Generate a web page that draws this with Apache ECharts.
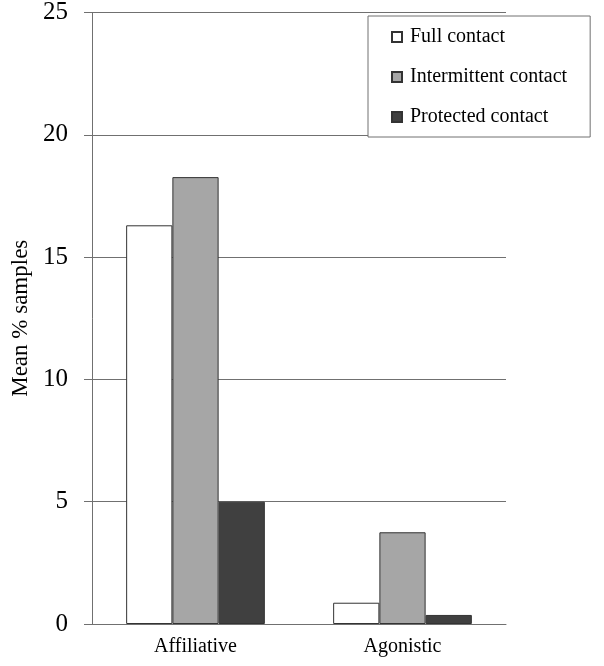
<!DOCTYPE html>
<html>
<head>
<meta charset="utf-8">
<script src="https://cdn.jsdelivr.net/npm/echarts@6/dist/echarts.min.js"></script>
<style>
  html, body { margin: 0; padding: 0; background: #fff; }
  #chart { width: 604px; height: 666px; }
</style>
</head>
<body>
<div id="chart"></div>
<script>
const FONT = "'Liberation Serif', 'Times New Roman', serif";

const categories = ['Affiliative', 'Agonistic'];
const seriesNames = ['Full contact', 'Intermittent contact', 'Protected contact'];
const fullContact = [16.3, 0.87];
const intermittentContact = [18.27, 3.75];
const protectedContact = [5.0, 0.37];
const barColors = ['#ffffff', '#a6a6a6', '#404040'];

const values = [fullContact, intermittentContact, protectedContact];

const chart = echarts.init(document.getElementById('chart'), null, { renderer: 'canvas' });

chart.setOption({
  animation: false,
  backgroundColor: '#ffffff',
  grid: { left: 92, right: 98, top: 12.5, bottom: 42, containLabel: false, outerBoundsMode: 'none' },
  legend: {
    orient: 'vertical',
    left: 368,
    top: 16,
    padding: [11, 23, 10, 23],
    itemGap: 20,
    itemWidth: 10,
    itemHeight: 10,
    icon: 'rect',
    backgroundColor: '#ffffff',
    borderColor: '#707070',
    borderWidth: 1,
    borderRadius: 0,
    textStyle: { fontFamily: FONT, fontSize: 20, color: '#000', lineHeight: 20, padding: [0, 0, 0, 3] },
    data: seriesNames
  },
  xAxis: {
    type: 'category',
    data: categories,
    axisLine: { lineStyle: { color: '#707070', width: 1 } },
    axisTick: { show: false },
    axisLabel: { fontFamily: FONT, fontSize: 20, color: '#000', margin: 13 }
  },
  yAxis: {
    type: 'value',
    min: 0,
    max: 25,
    interval: 5,
    name: 'Mean % samples',
    nameLocation: 'middle',
    nameRotate: 90,
    nameGap: 60,
    nameTextStyle: { fontFamily: FONT, fontSize: 23, color: '#000' },
    axisLine: { show: true, lineStyle: { color: '#707070', width: 1 } },
    axisTick: { show: true, length: 8, lineStyle: { color: '#707070' } },
    axisLabel: { fontFamily: FONT, fontSize: 25, color: '#000', margin: 24, padding: [6, 0, 0, 0] },
    splitLine: { show: true, lineStyle: { color: '#707070', width: 1 } }
  },
  series: seriesNames.map((name, i) => ({
    name: name,
    type: 'bar',
    data: values[i],
    barGap: '0%',
    barCategoryGap: '33%',
    itemStyle: { color: barColors[i], borderColor: '#333333', borderWidth: 1 }
  }))
});
</script>
</body>
</html>
